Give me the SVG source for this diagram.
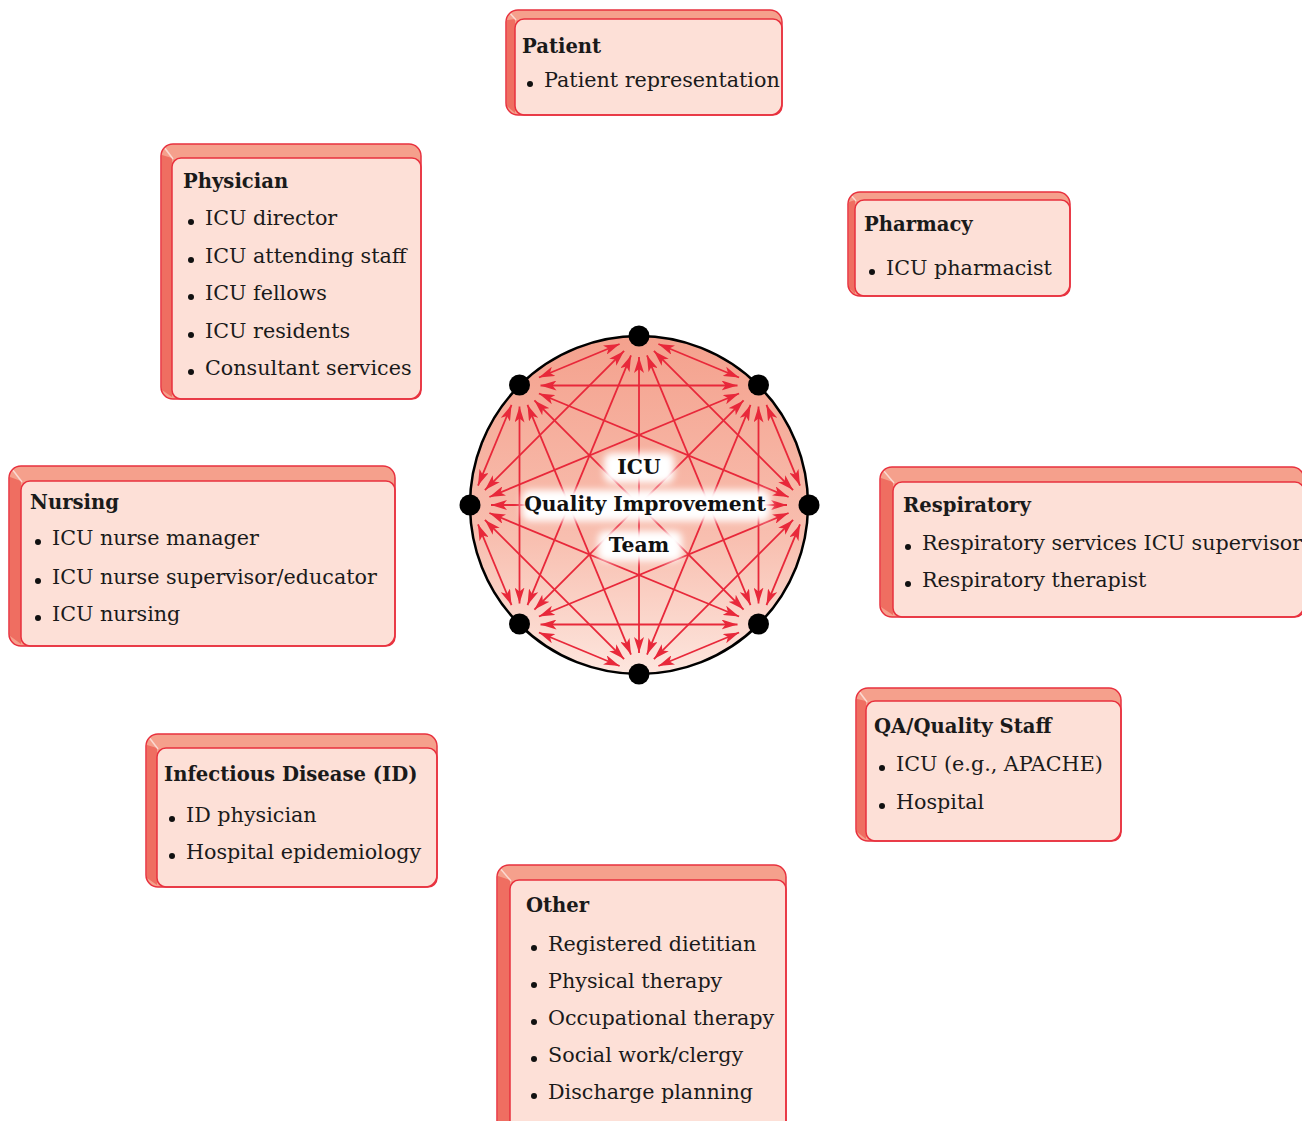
<svg xmlns="http://www.w3.org/2000/svg" width="1302" height="1121" viewBox="0 0 1302 1121">
<defs>
<style>
.o{fill:#f5a08c}
.l{fill:#ef6e61}
.f{fill:#fde0d7;stroke:#e8313e;stroke-width:1.5}
.os{fill:none;stroke:#e8313e;stroke-width:1.5}
.hl{stroke:#fff;stroke-opacity:0.6;stroke-width:1.5}
.t{font-family:"DejaVu Serif","Liberation Serif",serif;font-size:20.7px;fill:#1a1a1a}
.b{font-weight:bold;font-size:19.6px}
.bu{fill:#111}
.e{stroke:#e8283a;stroke-width:1.8;fill:none;marker-start:url(#ah);marker-end:url(#ah)}
.nd{fill:#000}
.ct{font-family:"DejaVu Serif","Liberation Serif",serif;font-size:20.3px;font-weight:bold;fill:#111;text-anchor:middle}
</style>
<marker id="ah" viewBox="0 0 16 10" refX="16" refY="5" markerWidth="16" markerHeight="10" markerUnits="userSpaceOnUse" orient="auto-start-reverse">
<path d="M0,0 L16,5 L0,10 L4,5 z" fill="#e8283a"/>
</marker>
<linearGradient id="cg" x1="0" y1="0" x2="0" y2="1">
<stop offset="0" stop-color="#f4a18d"/>
<stop offset="0.6" stop-color="#f8bfb0"/>
<stop offset="1" stop-color="#fde6de"/>
</linearGradient>
<filter id="glow" x="-30%" y="-60%" width="160%" height="220%">
<feGaussianBlur stdDeviation="3.5"/>
</filter>
</defs>

<g id="patient">
<rect class="o" x="506" y="10" width="276" height="105" rx="12"/>
<polygon class="l" points="507,20 515,19 515,113 507,106"/>
<line class="hl" x1="509" y1="12" x2="516" y2="20"/>
<rect class="f" x="515" y="19" width="267" height="96" rx="9"/>
<rect class="os" x="506" y="10" width="276" height="105" rx="12"/>
<text class="t b" x="522" y="53">Patient</text>
<circle class="bu" cx="530" cy="84" r="3"/>
<text class="t" x="544" y="87">Patient representation</text>
</g>

<g id="physician">
<rect class="o" x="161" y="144" width="260" height="255" rx="12"/>
<polygon class="l" points="162,155 172,158 172,397 162,390"/>
<line class="hl" x1="164" y1="147" x2="173" y2="159"/>
<rect class="f" x="172" y="158" width="249" height="241" rx="9"/>
<rect class="os" x="161" y="144" width="260" height="255" rx="12"/>
<text class="t b" x="183" y="188">Physician</text>
<circle class="bu" cx="191" cy="222" r="3"/>
<text class="t" x="205" y="225">ICU director</text>
<circle class="bu" cx="191" cy="260" r="3"/>
<text class="t" x="205" y="263">ICU attending staff</text>
<circle class="bu" cx="191" cy="297" r="3"/>
<text class="t" x="205" y="300">ICU fellows</text>
<circle class="bu" cx="191" cy="335" r="3"/>
<text class="t" x="205" y="338">ICU residents</text>
<circle class="bu" cx="191" cy="372" r="3"/>
<text class="t" x="205" y="375">Consultant services</text>
</g>

<g id="pharmacy">
<rect class="o" x="848" y="192" width="222" height="104" rx="12"/>
<polygon class="l" points="849,202 855,200 855,294 849,288"/>
<line class="hl" x1="850" y1="194" x2="856" y2="201"/>
<rect class="f" x="855" y="200" width="215" height="96" rx="9"/>
<rect class="os" x="848" y="192" width="222" height="104" rx="12"/>
<text class="t b" x="864" y="231">Pharmacy</text>
<circle class="bu" cx="872" cy="272" r="3"/>
<text class="t" x="886" y="275">ICU pharmacist</text>
</g>

<g id="nursing">
<rect class="o" x="9" y="466" width="386" height="180" rx="12"/>
<polygon class="l" points="10,477 21,481 21,644 10,636"/>
<line class="hl" x1="12" y1="469" x2="22" y2="482"/>
<rect class="f" x="21" y="481" width="374" height="165" rx="9"/>
<rect class="os" x="9" y="466" width="386" height="180" rx="12"/>
<text class="t b" x="30" y="509">Nursing</text>
<circle class="bu" cx="38" cy="542" r="3"/>
<text class="t" x="52" y="545">ICU nurse manager</text>
<circle class="bu" cx="38" cy="581" r="3"/>
<text class="t" x="52" y="584">ICU nurse supervisor/educator</text>
<circle class="bu" cx="38" cy="618" r="3"/>
<text class="t" x="52" y="621">ICU nursing</text>
</g>

<g id="respiratory">
<rect class="o" x="880" y="467" width="424" height="150" rx="12"/>
<polygon class="l" points="881,478 893,482 893,615 881,607"/>
<line class="hl" x1="883" y1="470" x2="894" y2="483"/>
<rect class="f" x="893" y="482" width="411" height="135" rx="9"/>
<rect class="os" x="880" y="467" width="424" height="150" rx="12"/>
<text class="t b" x="903" y="512">Respiratory</text>
<circle class="bu" cx="908" cy="547" r="3"/>
<text class="t" x="922" y="550">Respiratory services ICU supervisor</text>
<circle class="bu" cx="908" cy="584" r="3"/>
<text class="t" x="922" y="587">Respiratory therapist</text>
</g>

<g id="qa">
<rect class="o" x="856" y="688" width="265" height="153" rx="12"/>
<polygon class="l" points="857,699 866,701 866,839 857,832"/>
<line class="hl" x1="858" y1="690" x2="867" y2="702"/>
<rect class="f" x="866" y="701" width="255" height="140" rx="9"/>
<rect class="os" x="856" y="688" width="265" height="153" rx="12"/>
<text class="t b" x="874" y="733">QA/Quality Staff</text>
<circle class="bu" cx="882" cy="768" r="3"/>
<text class="t" x="896" y="771">ICU (e.g., APACHE)</text>
<circle class="bu" cx="882" cy="806" r="3"/>
<text class="t" x="896" y="809">Hospital</text>
</g>

<g id="id">
<rect class="o" x="146" y="734" width="291" height="153" rx="12"/>
<polygon class="l" points="147,745 157,748 157,885 147,878"/>
<line class="hl" x1="148" y1="736" x2="158" y2="749"/>
<rect class="f" x="157" y="748" width="280" height="139" rx="9"/>
<rect class="os" x="146" y="734" width="291" height="153" rx="12"/>
<text class="t b" x="164" y="781">Infectious Disease (ID)</text>
<circle class="bu" cx="172" cy="819" r="3"/>
<text class="t" x="186" y="822">ID physician</text>
<circle class="bu" cx="172" cy="856" r="3"/>
<text class="t" x="186" y="859">Hospital epidemiology</text>
</g>

<g id="other">
<rect class="o" x="497" y="865" width="289" height="270" rx="12"/>
<polygon class="l" points="498,876 510,880 510,1130 498,1130"/>
<line class="hl" x1="499" y1="867" x2="511" y2="881"/>
<rect class="f" x="510" y="880" width="276" height="255" rx="9"/>
<rect class="os" x="497" y="865" width="289" height="270" rx="12"/>
<text class="t b" x="526" y="912">Other</text>
<circle class="bu" cx="534" cy="948" r="3"/>
<text class="t" x="548" y="951">Registered dietitian</text>
<circle class="bu" cx="534" cy="985" r="3"/>
<text class="t" x="548" y="988">Physical therapy</text>
<circle class="bu" cx="534" cy="1022" r="3"/>
<text class="t" x="548" y="1025">Occupational therapy</text>
<circle class="bu" cx="534" cy="1059" r="3"/>
<text class="t" x="548" y="1062">Social work/clergy</text>
<circle class="bu" cx="534" cy="1096" r="3"/>
<text class="t" x="548" y="1099">Discharge planning</text>
</g>

<g id="team">
<circle cx="639" cy="505" r="169" fill="url(#cg)" stroke="#000" stroke-width="2.5"/>
</g>

<g id="connectors">
<line class="e" x1="658.4" y1="344.0" x2="739.1" y2="377.5"/>
<line class="e" x1="766.5" y1="404.9" x2="800.0" y2="485.6"/>
<line class="e" x1="800.0" y1="524.4" x2="766.5" y2="605.1"/>
<line class="e" x1="739.1" y1="632.5" x2="658.4" y2="666.0"/>
<line class="e" x1="619.6" y1="666.0" x2="538.9" y2="632.5"/>
<line class="e" x1="511.5" y1="605.1" x2="478.0" y2="524.4"/>
<line class="e" x1="478.0" y1="485.6" x2="511.5" y2="404.9"/>
<line class="e" x1="538.9" y1="377.5" x2="619.6" y2="344.0"/>
<line class="e" x1="653.9" y1="350.9" x2="793.1" y2="490.1"/>
<line class="e" x1="758.5" y1="406.5" x2="758.5" y2="603.5"/>
<line class="e" x1="793.1" y1="519.9" x2="653.9" y2="659.1"/>
<line class="e" x1="737.5" y1="624.5" x2="540.5" y2="624.5"/>
<line class="e" x1="624.1" y1="659.1" x2="484.9" y2="519.9"/>
<line class="e" x1="519.5" y1="603.5" x2="519.5" y2="406.5"/>
<line class="e" x1="484.9" y1="490.1" x2="624.1" y2="350.9"/>
<line class="e" x1="540.5" y1="385.5" x2="737.5" y2="385.5"/>
<line class="e" x1="647.0" y1="355.4" x2="750.5" y2="605.1"/>
<line class="e" x1="750.5" y1="404.9" x2="647.0" y2="654.6"/>
<line class="e" x1="788.6" y1="513.0" x2="538.9" y2="616.5"/>
<line class="e" x1="739.1" y1="616.5" x2="489.4" y2="513.0"/>
<line class="e" x1="631.0" y1="654.6" x2="527.5" y2="404.9"/>
<line class="e" x1="527.5" y1="605.1" x2="631.0" y2="355.4"/>
<line class="e" x1="489.4" y1="497.0" x2="739.1" y2="393.5"/>
<line class="e" x1="538.9" y1="393.5" x2="788.6" y2="497.0"/>
<line class="e" x1="639" y1="357" x2="639" y2="653"/>
<line class="e" x1="743.6" y1="400.4" x2="534.4" y2="609.6"/>
<line class="e" x1="787" y1="505" x2="491" y2="505"/>
<line class="e" x1="743.6" y1="609.6" x2="534.4" y2="400.4"/>
</g>

<g id="nodes">
<circle class="nd" cx="639" cy="336" r="10.5"/>
<circle class="nd" cx="758.5" cy="385" r="10.5"/>
<circle class="nd" cx="809" cy="505" r="10.5"/>
<circle class="nd" cx="758.5" cy="624" r="10.5"/>
<circle class="nd" cx="639" cy="674" r="10.5"/>
<circle class="nd" cx="519.5" cy="624" r="10.5"/>
<circle class="nd" cx="470" cy="505" r="10.5"/>
<circle class="nd" cx="519.5" cy="385" r="10.5"/>
</g>

<g id="team-label">
<g filter="url(#glow)" fill="#fff">
<rect x="604" y="453" width="70" height="30" rx="8"/>
<rect x="522" y="490" width="248" height="31" rx="8"/>
<rect x="598" y="531" width="84" height="30" rx="8"/>
</g>
<text class="ct" x="639" y="474">ICU</text>
<text class="ct" x="645" y="511">Quality Improvement</text>
<text class="ct" x="639" y="552">Team</text>
</g>
</svg>
